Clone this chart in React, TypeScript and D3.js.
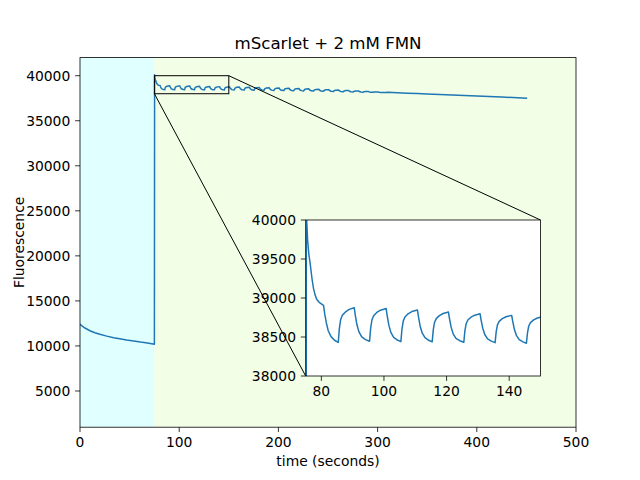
import React from "react";
import * as d3 from "d3";

// ---- data ----
const darkTime = [0, 2, 5, 10, 15, 20, 27, 34, 40, 47, 54, 61, 68, 75];
const darkSignal = [12400, 12220, 11990, 11690, 11470, 11290, 11090, 10910, 10790, 10660, 10550, 10430, 10330, 10200];

const jumpAndSettle: [number, number][] = [
  [75.2, 40100], [75.6, 39750], [76.0, 39560], [76.4, 39450], [77.0, 39250], [77.5, 39120], [78.0, 39040],
  [78.5, 38985], [79.3, 38945], [80.0, 38925], [80.7, 38905], [81.1, 38790], [81.6, 38680], [82.2, 38580],
  [83.1, 38505], [84.3, 38455],
];

const insetCycles: [number, number][] = [
  [85.4, 38430], [85.75, 38608], [86.15, 38720], [86.7, 38778], [87.7, 38822], [88.9, 38854], [90.5, 38876], [90.8, 38790], [91.35, 38660], [92.0, 38566], [92.9, 38501], [94.1, 38467],
  [95.4, 38445], [95.75, 38613], [96.15, 38718], [96.7, 38773], [97.7, 38815], [98.9, 38844], [100.7, 38865], [101.0, 38780], [101.55, 38652], [102.2, 38559], [103.1, 38495], [104.3, 38461],
  [105.4, 38440], [105.75, 38602], [106.15, 38704], [106.7, 38757], [107.7, 38797], [108.9, 38826], [110.7, 38846], [111.0, 38764], [111.55, 38642], [112.2, 38552], [113.1, 38491], [114.3, 38458],
  [115.4, 38438], [115.75, 38591], [116.15, 38686], [116.7, 38736], [117.7, 38774], [118.9, 38801], [120.6, 38820], [120.9, 38743], [121.45, 38627], [122.1, 38541], [123.0, 38483], [124.2, 38452],
  [125.5, 38433], [125.85, 38579], [126.25, 38670], [126.8, 38718], [127.8, 38754], [129.0, 38780], [130.7, 38798], [131.0, 38724], [131.55, 38613], [132.2, 38532], [133.1, 38476], [134.3, 38447],
  [135.5, 38428], [135.85, 38568], [136.25, 38655], [136.8, 38700], [137.8, 38735], [139.0, 38760], [140.8, 38777], [141.1, 38706], [141.65, 38599], [142.3, 38520], [143.2, 38466], [144.4, 38438],
  [145.5, 38420], [145.85, 38556], [146.25, 38641], [146.8, 38685], [147.8, 38719], [149.0, 38743], [150.7, 38760],
];

const lateCycles: [number, number][] = [
  [151.55, 38585], [153.1, 38456], [155.5, 38410], [156.3, 38628], [158.0, 38712], [160.7, 38745],
  [161.55, 38573], [163.1, 38445], [165.5, 38400], [166.3, 38611], [168.0, 38693], [170.7, 38725],
  [171.55, 38558], [173.1, 38434], [175.5, 38390], [176.3, 38592], [178.0, 38669], [180.7, 38700],
  [181.55, 38538], [183.1, 38417], [185.5, 38375], [186.3, 38567], [188.0, 38641], [190.7, 38670],
  [191.55, 38515], [193.1, 38400], [195.5, 38360], [196.3, 38542], [198.0, 38612], [200.7, 38640],
  [201.55, 38493], [203.1, 38383], [205.5, 38345], [206.3, 38517], [208.0, 38584], [210.7, 38610],
  [211.55, 38470], [213.1, 38366], [215.5, 38330], [216.3, 38489], [218.0, 38551], [220.7, 38575],
  [221.55, 38443], [223.1, 38344], [225.5, 38310], [226.3, 38460], [228.0, 38517], [230.7, 38540],
  [231.55, 38415], [233.1, 38323], [235.5, 38290], [236.3, 38427], [238.0, 38479], [240.7, 38500],
  [241.55, 38385], [243.1, 38300], [245.5, 38270], [246.3, 38390], [248.0, 38437], [250.7, 38455],
  [251.55, 38352], [253.1, 38277], [255.5, 38250], [256.3, 38354], [258.0, 38394], [260.7, 38410],
  [261.55, 38318], [263.1, 38249], [265.5, 38225], [266.3, 38313], [268.0, 38347], [270.7, 38360],
  [271.55, 38280], [273.1, 38221], [275.5, 38200], [276.3, 38272], [278.0, 38299], [280.7, 38310],
  [281.55, 38243], [283.1, 38193], [285.5, 38175], [286.3, 38227], [288.0, 38247], [290.7, 38255],
  [291.55, 38203], [293.1, 38164], [295.5, 38150], [296.3, 38183], [298.0, 38195], [300.7, 38200],
  [301.55, 38163], [303.1, 38135], [305.5, 38125], [306.3, 38141], [308.0, 38147], [310.7, 38150],
];

const driftTail: [number, number][] = [
  [315, 38130], [320, 38110], [330, 38065], [340, 38020], [350, 37975], [375, 37865], [400, 37750], [425, 37630], [450, 37505],
];

const xTicks = [0, 100, 200, 300, 400, 500];
const yTicks = [5000, 10000, 15000, 20000, 25000, 30000, 35000, 40000];
const insetXTicks = [80, 100, 120, 140];
const insetYTicks = [38000, 38500, 39000, 39500, 40000];
const darkSpan = [0, 75];
const lightSpan = [75, 500];
const zoomX = [75, 150];
const zoomY = [38000, 40000];

const title = "mScarlet + 2 mM FMN";
const xLabel = "time (seconds)";
const yLabel = "Fluorescence";

// ---- layout ----
const W = 640, H = 480;
const L = 80, R = 576, T = 57.6, B = 427.2;
const IL = 305.7, IR = 540.5, IT = 220, IB = 376;
const FONT = "DejaVu Sans, sans-serif";
const TICK = 4.86, PAD = 4.86;
const BLUE = "#1f77b4";

export default function App() {
  const trace: [number, number][] = [
    ...darkTime.map((t, i) => [t, darkSignal[i]] as [number, number]),
    ...jumpAndSettle,
    ...insetCycles,
    ...lateCycles,
    ...driftTail,
  ];

  const x = d3.scaleLinear().domain([0, 500]).range([L, R]);
  const y = d3.scaleLinear().domain([980, 42010]).range([B, T]);
  const xi = d3.scaleLinear().domain(zoomX).range([IL, IR]);
  const yi = d3.scaleLinear().domain(zoomY).range([IB, IT]);

  const mainLine = d3.line<[number, number]>().x((d) => x(d[0])).y((d) => y(d[1]))(trace) || "";
  const insetLine = d3.line<[number, number]>().x((d) => xi(d[0])).y((d) => yi(d[1]))(trace) || "";

  const rx0 = x(zoomX[0]), rx1 = x(zoomX[1]);
  const ry0 = y(zoomY[1]), ry1 = y(zoomY[0]);

  return (
    <svg width={W} height={H} style={{ position: "absolute", left: 0, top: 0, background: "#fff" }} fontFamily={FONT}>
      <defs>
        <clipPath id="mainClip"><rect x={L} y={T} width={R - L} height={B - T} /></clipPath>
        <clipPath id="insetClip"><rect x={IL} y={IT} width={IR - IL} height={IB - IT} /></clipPath>
      </defs>
      <rect x={0} y={0} width={W} height={H} fill="#fff" />
      {/* spans */}
      <g clipPath="url(#mainClip)">
        <rect x={x(darkSpan[0])} y={T} width={x(darkSpan[1]) - x(darkSpan[0])} height={B - T} fill="#e0ffff" />
        <rect x={x(lightSpan[0])} y={T} width={x(lightSpan[1]) - x(lightSpan[0])} height={B - T} fill="#f2fee6" />
        <path d={mainLine} fill="none" stroke={BLUE} strokeWidth={1.5} strokeLinejoin="round" strokeLinecap="square" />
        <rect x={rx0} y={ry0} width={rx1 - rx0} height={ry1 - ry0} fill="none" stroke="#000" strokeWidth={1} />
      </g>
      {/* connectors */}
      <line x1={rx1} y1={ry0} x2={IR} y2={IT} stroke="#000" strokeWidth={1} />
      <line x1={rx0} y1={ry1} x2={IL} y2={IB} stroke="#000" strokeWidth={1} />

      {/* main axes */}
      <rect x={L} y={T} width={R - L} height={B - T} fill="none" stroke="#000" strokeWidth={0.8} />
      {xTicks.map((t) => (
        <g key={"x" + t}>
          <line x1={x(t)} x2={x(t)} y1={B} y2={B + TICK} stroke="#000" strokeWidth={0.8} />
          <text x={x(t)} y={B + TICK + PAD + 10.1} fontSize={13.89} textAnchor="middle">{t}</text>
        </g>
      ))}
      {yTicks.map((t) => (
        <g key={"y" + t}>
          <line x1={L - TICK} x2={L} y1={y(t)} y2={y(t)} stroke="#000" strokeWidth={0.8} />
          <text x={L - TICK - PAD} y={y(t) + 5.05} fontSize={13.89} textAnchor="end">{t}</text>
        </g>
      ))}
      <text x={(L + R) / 2} y={465.5} fontSize={13.89} textAnchor="middle">{xLabel}</text>
      <text transform={`translate(24,${(T + B) / 2}) rotate(-90)`} fontSize={13.89} textAnchor="middle">{yLabel}</text>
      <text x={(L + R) / 2} y={49.2} fontSize={16.67} textAnchor="middle">{title}</text>

      {/* inset */}
      <rect x={IL} y={IT} width={IR - IL} height={IB - IT} fill="#fff" />
      <g clipPath="url(#insetClip)">
        <path d={insetLine} fill="none" stroke={BLUE} strokeWidth={1.5} strokeLinejoin="round" strokeLinecap="square" />
      </g>
      <rect x={IL} y={IT} width={IR - IL} height={IB - IT} fill="none" stroke="#000" strokeWidth={0.8} />
      {insetXTicks.map((t) => (
        <g key={"ix" + t}>
          <line x1={xi(t)} x2={xi(t)} y1={IB} y2={IB + TICK} stroke="#000" strokeWidth={0.8} />
          <text x={xi(t)} y={IB + TICK + PAD + 10.1} fontSize={13.89} textAnchor="middle">{t}</text>
        </g>
      ))}
      {insetYTicks.map((t) => (
        <g key={"iy" + t}>
          <line x1={IL - TICK} x2={IL} y1={yi(t)} y2={yi(t)} stroke="#000" strokeWidth={0.8} />
          <text x={IL - TICK - PAD} y={yi(t) + 5.05} fontSize={13.89} textAnchor="end">{t}</text>
        </g>
      ))}
    </svg>
  );
}
